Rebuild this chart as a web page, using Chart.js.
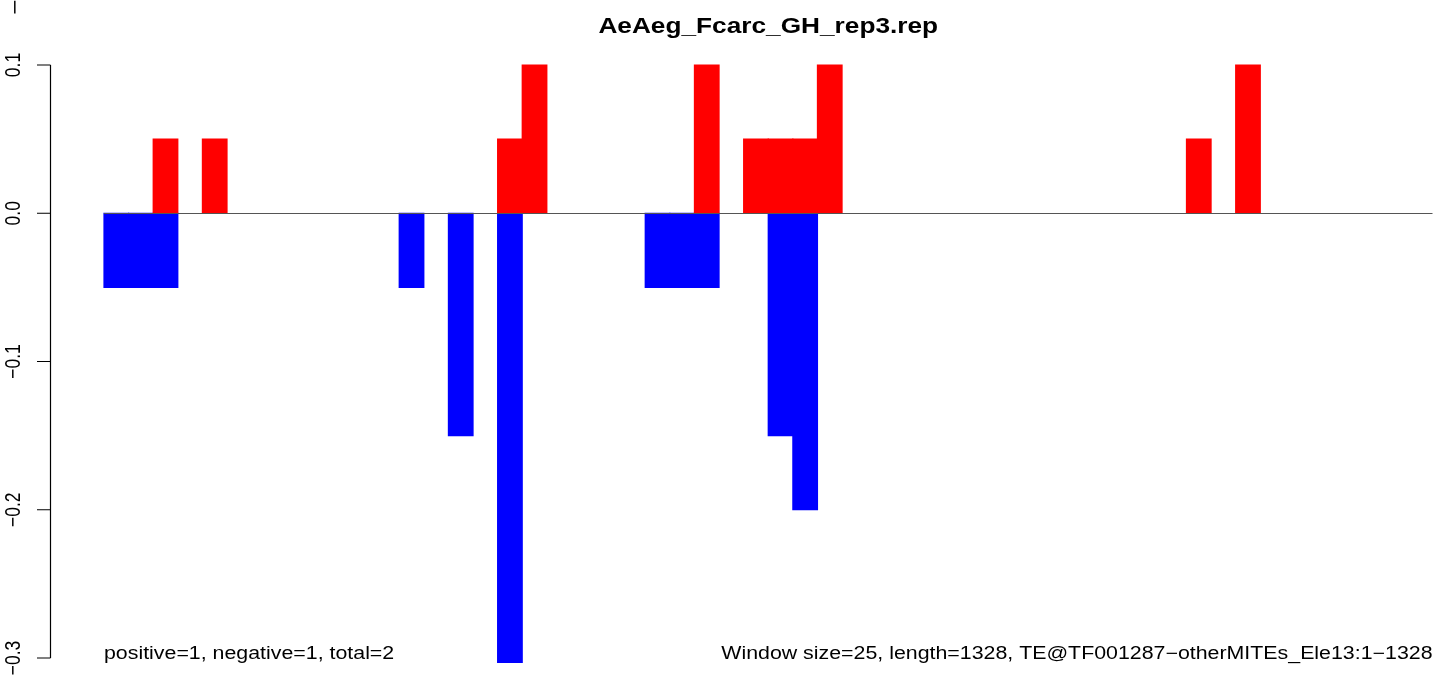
<!DOCTYPE html>
<html>
<head>
<meta charset="utf-8">
<title>AeAeg_Fcarc_GH_rep3.rep</title>
<script src="https://cdn.jsdelivr.net/npm/chart.js@4.4.1/dist/chart.umd.min.js"></script>
<style>
  html, body { margin: 0; padding: 0; background: #fff; }
  #wrap { width: 1439px; height: 683px; position: relative; }
</style>
</head>
<body>
<div id="wrap"><canvas id="repChart" width="1439" height="683"></canvas></div>
<script>
// 25 bp windows along the 1328 bp element
const windowStarts = [
  1, 26, 51, 76, 101, 126, 151, 176, 201, 226,
  251, 276, 301, 326, 351, 376, 401, 426, 451, 476,
  501, 526, 551, 576, 601, 626, 651, 676, 701, 726,
  751, 776, 801, 826, 851, 876, 901, 926, 951, 976,
  1001, 1026, 1051, 1076, 1101, 1126, 1151, 1176, 1201, 1226,
  1251, 1276, 1301, 1326
];

// plus strand (red) and minus strand (blue) per window
const positiveScores = [
  0, 0, 0.05, 0, 0.05, 0, 0, 0, 0, 0,
  0, 0, 0, 0, 0, 0, 0.05, 0.1, 0, 0,
  0, 0, 0, 0, 0.1, 0, 0.05, 0.05, 0.05, 0.1,
  0, 0, 0, 0, 0, 0, 0, 0, 0, 0,
  0, 0, 0, 0, 0.05, 0, 0.1, 0, 0, 0,
  0, 0, 0, 0
];
const negativeScores = [
  -0.05, -0.05, -0.05, 0, 0, 0, 0, 0, 0, 0,
  0, 0, -0.05, 0, -0.15, 0, -0.303, 0, 0, 0,
  0, 0, -0.05, -0.05, -0.05, 0, 0, -0.15, -0.2, 0,
  0, 0, 0, 0, 0, 0, 0, 0, 0, 0,
  0, 0, 0, 0, 0, 0, 0, 0, 0, 0,
  0, 0, 0, 0
];

const yTicks = [0.1, 0.0, -0.1, -0.2, -0.3];
const yTickLabels = ['0.1', '0.0', '\u22120.1', '\u22120.2', '\u22120.3'];

const titleText = 'AeAeg_Fcarc_GH_rep3.rep';
const countsText = 'positive=1, negative=1, total=2';
const infoText = 'Window size=25, length=1328, TE@TF001287\u2212otherMITEs_Ele13:1\u22121328';

const STRETCH = 1.22; // text is drawn a bit wide, like the old device output
const FONT = '"Liberation Sans", Arial, Helvetica, sans-serif';

// empty windows get no bar at all
const skipZero = arr => arr.map(v => (v === 0 ? null : v));

function wideText(ctx, text, x, y, align) {
  ctx.save();
  ctx.translate(x, y);
  ctx.scale(STRETCH, 1);
  ctx.textAlign = align;
  ctx.fillText(text, 0, 0);
  ctx.restore();
}

function sideText(ctx, text, x, y) {
  ctx.save();
  ctx.translate(x, y);
  ctx.scale(STRETCH, 1);
  ctx.rotate(-Math.PI / 2);
  ctx.textAlign = 'center';
  ctx.textBaseline = 'alphabetic';
  ctx.fillText(text, 0, 0);
  ctx.restore();
}

const baseAxisPlugin = {
  id: 'baseAxis',
  afterDatasetsDraw(chart) {
    const { ctx, chartArea, scales } = chart;
    const y = scales.y;
    ctx.save();

    // zero line across the plot
    const y0 = Math.round(y.getPixelForValue(0)) + 0.5;
    ctx.strokeStyle = '#555';
    ctx.lineWidth = 1.2;
    ctx.beginPath();
    ctx.moveTo(chartArea.left, y0);
    ctx.lineTo(chartArea.right, y0);
    ctx.stroke();

    // left axis, offset from the bars
    const ax = 50.5;
    ctx.strokeStyle = '#000';
    ctx.lineWidth = 1.2;
    ctx.beginPath();
    ctx.moveTo(ax, y.getPixelForValue(yTicks[0]));
    ctx.lineTo(ax, y.getPixelForValue(yTicks[yTicks.length - 1]));
    yTicks.forEach(v => {
      const py = y.getPixelForValue(v);
      ctx.moveTo(ax, py);
      ctx.lineTo(37, py);
    });
    ctx.stroke();

    ctx.fillStyle = '#000';
    ctx.font = '17.5px ' + FONT;
    yTicks.forEach((v, i) => {
      sideText(ctx, yTickLabels[i], 20, y.getPixelForValue(v));
    });
    // stray minus at the top edge
    ctx.save();
    ctx.translate(22, 7);
    ctx.scale(STRETCH, 1.5);
    ctx.rotate(-Math.PI / 2);
    ctx.textAlign = 'center';
    ctx.fillText('\u2212', 0, 0);
    ctx.restore();

    // title and footer notes
    ctx.textBaseline = 'alphabetic';
    ctx.font = 'bold 21.5px ' + FONT;
    wideText(ctx, titleText, (chartArea.left + chartArea.right) / 2, 33, 'center');
    ctx.font = '17.5px ' + FONT;
    wideText(ctx, countsText, chartArea.left, 659, 'left');
    wideText(ctx, infoText, chartArea.right, 659, 'right');

    ctx.restore();
  }
};

new Chart(document.getElementById('repChart'), {
  type: 'bar',
  data: {
    labels: windowStarts,
    datasets: [
      {
        label: 'positive',
        data: skipZero(positiveScores),
        backgroundColor: '#ff0000',
        borderWidth: 0,
        inflateAmount: 0.6,
        clip: false
      },
      {
        label: 'negative',
        data: skipZero(negativeScores),
        backgroundColor: '#0000ff',
        borderWidth: 0,
        inflateAmount: 0.6,
        clip: false
      }
    ]
  },
  options: {
    responsive: false,
    animation: false,
    devicePixelRatio: 1,
    grouped: false,
    barPercentage: 1,
    categoryPercentage: 1,
    layout: { padding: { left: 104, right: 6.5, top: 65, bottom: 25 } },
    scales: {
      x: { display: false },
      y: { display: false, min: -0.3, max: 0.1 }
    },
    plugins: {
      legend: { display: false },
      title: { display: false },
      tooltip: { enabled: false }
    }
  },
  plugins: [baseAxisPlugin]
});
</script>
</body>
</html>
